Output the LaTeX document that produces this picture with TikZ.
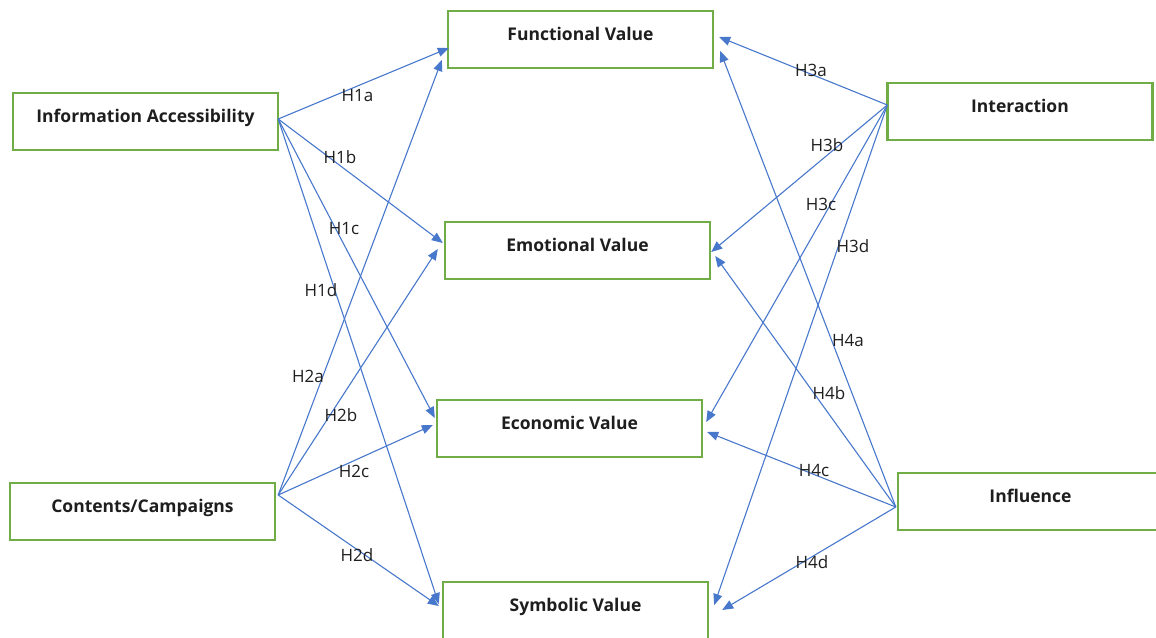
\documentclass[tikz,border=0pt]{standalone}
\usepackage{fontspec}
\setmainfont{Open Sans}
\usetikzlibrary{arrows.meta,calc}
\definecolor{boxgreen}{RGB}{112,173,71}
\definecolor{arrowblue}{RGB}{72,120,204}
\definecolor{txt}{RGB}{30,30,30}
\begin{document}
\begin{tikzpicture}[x=1pt,y=-1pt,
  box/.style={draw=boxgreen, line width=2.4pt, fill=white, minimum width=265pt,
    inner sep=0pt, text height=29pt, text depth=28pt, text=txt,
    font=\bfseries\fontsize{17.5}{20}\selectfont},
  hyp/.style={draw=arrowblue, line width=1.1pt, -{Triangle[length=11pt,width=9pt]}},
  lbl/.style={anchor=base, inner sep=0pt, text=txt, font=\fontsize{17}{20}\selectfont}]
\clip (0,0) rectangle (1156,637);
\fill[white] (0,0) rectangle (1156,637);
% boxes
\node[box] (ia) at (145.5,121.5) {Information Accessibility};
\node[box] (cc) at (142.5,511.5) {Contents/Campaigns};
\node[box] (fv) at (580.5,39.5) {Functional Value};
\node[box] (ev) at (577.5,250.5) {Emotional Value};
\node[box] (ecv) at (569.5,428.5) {Economic Value};
\node[box] (sv) at (575.5,610.5) {Symbolic Value};
\node[box] (int) at (1020,111.5) {Interaction};
\node[box] (inf) at (1030.5,501.5) {Influence};
% sources
\coordinate (sIA) at ($(ia.east)+(-1,-2.5)$);
\coordinate (sCC) at ($(cc.east)+(2,-16.5)$);
\coordinate (sINT) at ($(int.west)+(1,-6.5)$);
\coordinate (sINF) at ($(inf.west)+(-1,5.5)$);
% H1
\draw[hyp] (sIA) -- ($(fv.west)+(2,8.5)$);
\draw[hyp] (sIA) -- ($(ev.west)+(-1,-7.5)$);
\draw[hyp] (sIA) -- ($(ecv.west)+(-1,-10.5)$);
\draw[hyp] (sIA) -- ($(sv.west)+(-3,-6.5)$);
% H2
\draw[hyp] (sCC) -- ($(fv.west)+(-5,20.5)$);
\draw[hyp] (sCC) -- ($(ev.west)+(-6,-1.5)$);
\draw[hyp] (sCC) -- ($(ecv.west)+(-3,-3.5)$);
\draw[hyp] (sCC) -- ($(sv.west)+(-3,-4.5)$);
% H3
\draw[hyp] (sINT) -- ($(fv.east)+(5,-2.5)$);
\draw[hyp] (sINT) -- ($(ev.east)+(0,1.5)$);
\draw[hyp] (sINT) -- ($(ecv.east)+(3,-6.5)$);
\draw[hyp] (sINT) -- ($(sv.east)+(5,-5.5)$);
% H4
\draw[hyp] (sINF) -- ($(fv.east)+(6,11.5)$);
\draw[hyp] (sINF) -- ($(ev.east)+(4,5.5)$);
\draw[hyp] (sINF) -- ($(ecv.east)+(4,3.5)$);
\draw[hyp] (sINF) -- ($(sv.east)+(13,-0.5)$);
% labels
\node[lbl] (l1a) at (357.5,101.5) {H1a};
\node[lbl] (l1b) at (340,163.5) {H1b};
\node[lbl] (l1c) at (344,234) {H1c};
\node[lbl] (l1d) at (321,296) {H1d};
\node[lbl] (l2a) at (308,382) {H2a};
\node[lbl] (l2b) at (341,421) {H2b};
\node[lbl] (l2c) at (354,477) {H2c};
\node[lbl] (l2d) at (357,561) {H2d};
\node[lbl] (l3a) at (811,76) {H3a};
\node[lbl] (l3b) at (827,151) {H3b};
\node[lbl] (l3c) at (821,210) {H3c};
\node[lbl] (l3d) at (853,252) {H3d};
\node[lbl] (l4a) at (848,346) {H4a};
\node[lbl] (l4b) at (829,399) {H4b};
\node[lbl] (l4c) at (814,476) {H4c};
\node[lbl] (l4d) at (812,568) {H4d};
\end{tikzpicture}
\end{document}
